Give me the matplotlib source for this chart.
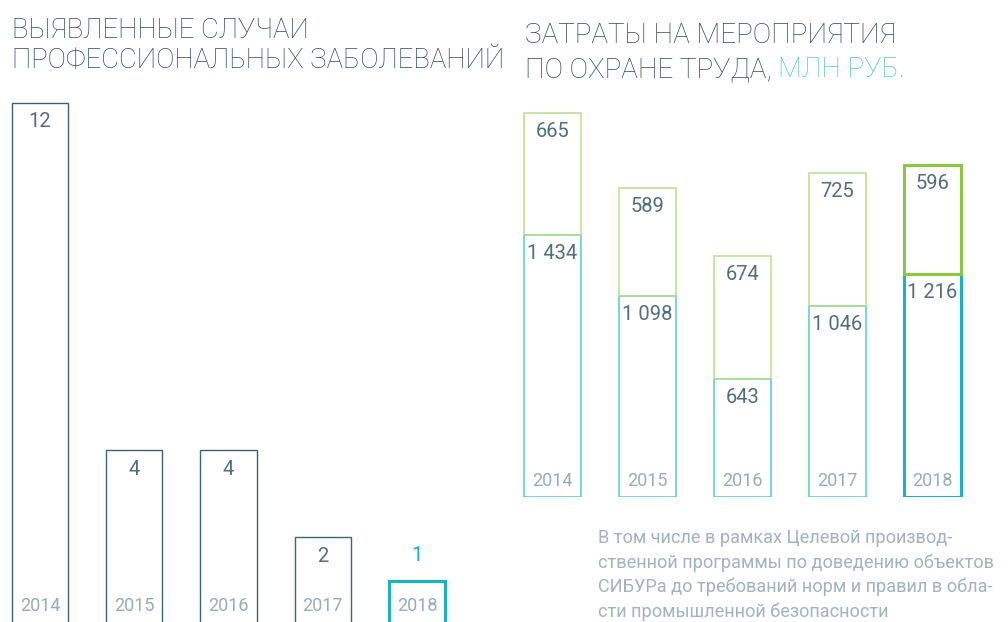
import matplotlib
matplotlib.use("Agg")
import matplotlib.pyplot as plt

# ---- data ----
years = ["2014", "2015", "2016", "2017", "2018"]
cases = [12, 4, 4, 2, 1]
costs_base = [1434, 1098, 643, 1046, 1216]
costs_extra = [665, 589, 674, 725, 596]
title_left = ["ВЫЯВЛЕННЫЕ СЛУЧАИ", "ПРОФЕССИОНАЛЬНЫХ ЗАБОЛЕВАНИЙ"]
title_right_1 = "ЗАТРАТЫ НА МЕРОПРИЯТИЯ"
title_right_2a = "ПО ОХРАНЕ ТРУДА, "
title_right_2b = "МЛН РУБ."
footnote = ["В том числе в рамках Целевой производ-",
            "ственной программы по доведению объектов",
            "СИБУРа до требований норм и правил в обла-",
            "сти промышленной безопасности"]

def fmt(v):
    return f"{v:,}".replace(",", " ")

W, H = 1008, 622
plt.rcParams['font.family'] = ['Roboto', 'DejaVu Sans']
fig = plt.figure(figsize=(W / 100, H / 100), dpi=100)
fig.patch.set_facecolor("white")

DARK = "#3f6373"
TEAL = "#14b4c1"
TEAL_L = "#52c9d4"
GREEN = "#8dc63f"
GREEN_L = "#b8dc8e"
NUM = "#4f6e7f"
YEAR = "#93aebb"
TITLE = "#2f4a5a"
FOOT = "#a0b3bf"

def px_axes(left, right, top, bottom):
    return fig.add_axes([left / W, (H - bottom) / H, (right - left) / W, (bottom - top) / H])

def p2pt(p):
    return p * 0.72

# ---- left chart ----
axl = px_axes(0, 460, 80, 624)
step_l = 94.25
x0 = -40 / step_l
axl.set_xlim(x0, x0 + 460 / step_l)
axl.set_ylim(0, (624 - 80) / 43.42)
axl.axis("off")
xs = list(range(len(years)))
ecol = [DARK] * 4 + [TEAL]
lws = [1.0] * 4 + [2.2]
axl.bar(xs, cases, width=56 / step_l, fill=False, edgecolor=ecol, linewidth=lws, clip_on=False)
for i, (x, v) in enumerate(zip(xs, cases)):
    if i < 4:
        axl.annotate(str(v), xy=(x, v), xytext=(0, -p2pt(19)), textcoords="offset points",
                     ha="center", va="center", fontsize=14.5, color=NUM)
    else:
        axl.annotate(str(v), xy=(x, v), xytext=(0, p2pt(25)), textcoords="offset points",
                     ha="center", va="center", fontsize=14.5, color=TEAL)
    axl.annotate(years[i], xy=(x, 0), xytext=(0, p2pt(18)), textcoords="offset points",
                 ha="center", va="center", fontsize=13, color=YEAR)

# ---- right chart ----
axr = px_axes(510, 1008, 100, 497)
step_r = 94.9
xr0 = -(552.5 - 510) / step_r
axr.set_xlim(xr0, xr0 + 498 / step_r)
axr.set_ylim(0, 397 / 0.183)
axr.axis("off")
wr = 57 / step_r
axr.bar(xs, costs_base, width=wr, fill=False, edgecolor=[TEAL_L] * 4 + [TEAL],
        linewidth=[1.1] * 4 + [2.2])
axr.bar(xs, costs_extra, bottom=costs_base, width=wr, fill=False,
        edgecolor=[GREEN_L] * 4 + [GREEN], linewidth=[1.1] * 4 + [2.2])
for i, x in enumerate(xs):
    b, e = costs_base[i], costs_extra[i]
    axr.annotate(fmt(e), xy=(x, b + e), xytext=(0, -p2pt(18.5)), textcoords="offset points",
                 ha="center", va="center", fontsize=14.5, color=NUM)
    axr.annotate(fmt(b), xy=(x, b), xytext=(0, -p2pt(18.5)), textcoords="offset points",
                 ha="center", va="center", fontsize=14.5, color=NUM)
    axr.annotate(years[i], xy=(x, 0), xytext=(0, p2pt(16.5)), textcoords="offset points",
                 ha="center", va="center", fontsize=13, color=YEAR)

# ---- titles ----
fig.text(12 / W, (H - 38) / H, title_left[0], fontsize=19.8, color=TITLE,
         fontweight="light", va="baseline", ha="left")
fig.text(12 / W, (H - 68) / H, title_left[1], fontsize=19.8, color=TITLE,
         fontweight="light", va="baseline", ha="left")
fig.text(525 / W, (H - 43) / H, title_right_1, fontsize=20, color=TITLE,
         fontweight="light", va="baseline", ha="left")
t2a = fig.text(525 / W, (H - 77) / H, title_right_2a, fontsize=20, color=TITLE,
               fontweight="light", va="baseline", ha="left")
fig.canvas.draw()
bb = t2a.get_window_extent(renderer=fig.canvas.get_renderer())
fig.text(bb.x1 / W, (H - 77) / H, title_right_2b, fontsize=20, color=TEAL_L,
         fontweight="light", va="baseline", ha="left")

# ---- footnote ----
for k, line in enumerate(footnote):
    fig.text(598 / W, (H - (543 + 24.6 * k)) / H, line, fontsize=13.1, color=FOOT,
             va="baseline", ha="left")

fig.savefig("out.png", dpi=100, facecolor="white")
